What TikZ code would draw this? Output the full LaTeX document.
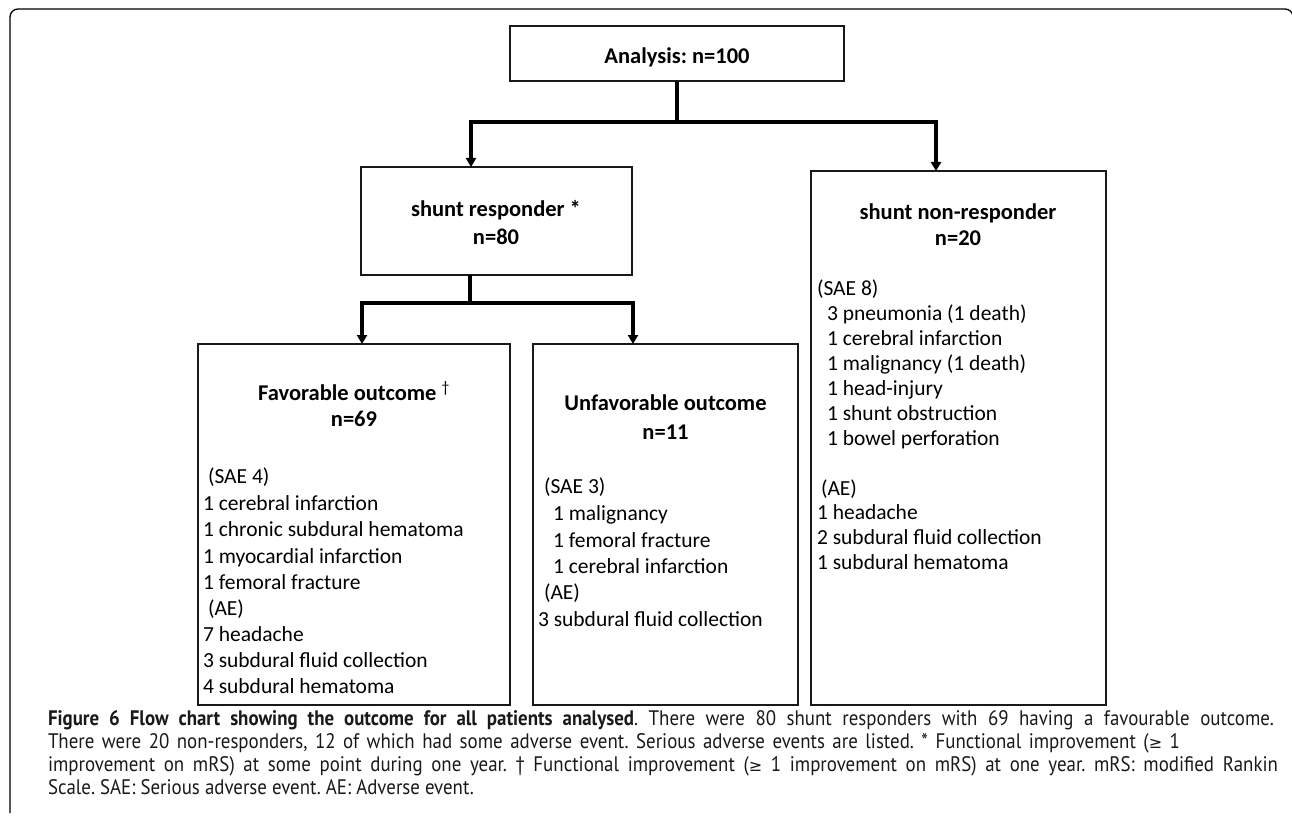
\documentclass[tikz,border=0pt]{standalone}
\usepackage{fontspec}
\setmainfont{Carlito}
\newfontfamily\capfont[FakeStretch=0.9]{PT Sans}
\newfontfamily\symfont{DejaVu Sans}
\usetikzlibrary{arrows.meta}
\begin{document}
\frenchspacing
\begin{tikzpicture}[x=1pt,y=-1pt,
  every node/.style={inner sep=0pt, outer sep=0pt},
  >={Triangle[length=9pt,width=10pt]},
  box/.style={draw=black!90, line width=1.4pt, anchor=north west},
  conn/.style={line width=3.2pt, black},
  ttl/.style={font=\fontsize{22.5}{26}\selectfont\bfseries, anchor=base},
  itm/.style={font=\fontsize{21.5}{26}\selectfont, anchor=base west},
  captxt/.style={font=\capfont\fontsize{21}{23}\selectfont, anchor=base west, text=black!90}]
\useasboundingbox (0,0) rectangle (1292,821);
% outer frame
\draw[line width=1.3pt, rounded corners=8pt] (10,813) -- (10,9) -- (1293,9) -- (1293,813);
% boxes
\node[box, minimum width=334pt, minimum height=55pt] (top) at (510,26) {};
\node[box, minimum width=271pt, minimum height=108pt] (resp) at (361,167) {};
\node[box, minimum width=295pt, minimum height=534pt] (nonresp) at (811,171) {};
\node[box, minimum width=312pt, minimum height=361pt] (fav) at (198,344) {};
\node[box, minimum width=265pt, minimum height=361pt] (unfav) at (533,344) {};
% connectors
\coordinate (j1) at (677,122);
\coordinate (a1) at (471,122);
\coordinate (a2) at (936,122);
\draw[conn] (top.south) -- (j1);
\draw[conn, <->] (a1 |- resp.north) -- (a1) -- (a2) -- (a2 |- nonresp.north);
\coordinate (j2) at (470,303);
\coordinate (b1) at (362,303);
\coordinate (b2) at (633,303);
\draw[conn] (j2 |- resp.south) -- (j2);
\draw[conn, <->] (b1 |- fav.north) -- (b1) -- (b2) -- (b2 |- unfav.north);
% texts
\node[ttl] (topT) at (677,63.5) {Analysis: n=100};
\node[ttl] (respT1) at (496,216.5) {shunt responder *};
\node[ttl] (respT2) at (496,244.5) {n=80};
\node[ttl] (nrT1) at (958,219) {shunt non-responder};
\node[ttl] (nrT2) at (958,245.5) {n=20};
\node[itm] (nr1) at (817,295.5) {(SAE 8)};
\node[itm] (nr2) at (827,320.5) {3 pneumonia (1 death)};
\node[itm] (nr3) at (827,345.5) {1 cerebral infarction};
\node[itm] (nr4) at (827,370.5) {1 malignancy (1 death)};
\node[itm] (nr5) at (827,395.5) {1 head-injury};
\node[itm] (nr6) at (827,420.5) {1 shunt obstruction};
\node[itm] (nr7) at (827,445.5) {1 bowel perforation};
\node[itm] (nr8) at (821,495.5) {(AE)};
\node[itm] (nr9) at (817,519.5) {1 headache};
\node[itm] (nr10) at (817,544.5) {2 subdural fluid collection};
\node[itm] (nr11) at (817,569.5) {1 subdural hematoma};
\node[ttl] (favT1) at (354,400.5) {Favorable outcome {\mdseries\textsuperscript{†}}};
\node[ttl] (favT2) at (354,426.5) {n=69};
\node[itm] (fv1) at (208,483.5) {(SAE 4)};
\node[itm] (fv2) at (203,510) {1 cerebral infarction};
\node[itm] (fv3) at (203,536.5) {1 chronic subdural hematoma};
\node[itm] (fv4) at (203,563) {1 myocardial infarction};
\node[itm] (fv5) at (203,589.5) {1 femoral fracture};
\node[itm] (fv6) at (208,615) {(AE)};
\node[itm] (fv7) at (203,641) {7 headache};
\node[itm] (fv8) at (203,667) {3 subdural fluid collection};
\node[itm] (fv9) at (203,693.5) {4 subdural hematoma};
\node[ttl] (ufT1) at (665.5,410.5) {Unfavorable outcome};
\node[ttl] (ufT2) at (665.5,439.5) {n=11};
\node[itm] (uf1) at (544,493.5) {(SAE 3)};
\node[itm] (uf2) at (553,520.5) {1 malignancy};
\node[itm] (uf3) at (553,547.5) {1 femoral fracture};
\node[itm] (uf4) at (553,573.5) {1 cerebral infarction};
\node[itm] (uf5) at (544,599.5) {(AE)};
\node[itm] (uf6) at (538,626.5) {3 subdural fluid collection};
% caption
\node[captxt] (cap1) at (48,725) {\makebox[1226pt][s]{\bfseries Figure 6 Flow chart showing the outcome for all patients analysed\mdseries. There were 80 shunt responders with 69 having a favourable outcome.}};
\node[captxt] (cap2) at (48,748) {\makebox[1132pt][s]{There were 20 non-responders, 12 of which had some adverse event. Serious adverse events are listed. * Functional improvement ({\symfont\fontsize{16}{18}\selectfont ≥} 1}};
\node[captxt] (cap3) at (48,771) {\makebox[1230pt][s]{improvement on mRS) at some point during one year. † Functional improvement ({\symfont\fontsize{16}{18}\selectfont ≥} 1 improvement on mRS) at one year. mRS: modified Rankin}};
\node[captxt] (cap4) at (48,794) {Scale. SAE: Serious adverse event. AE: Adverse event.};
\end{tikzpicture}
\end{document}
